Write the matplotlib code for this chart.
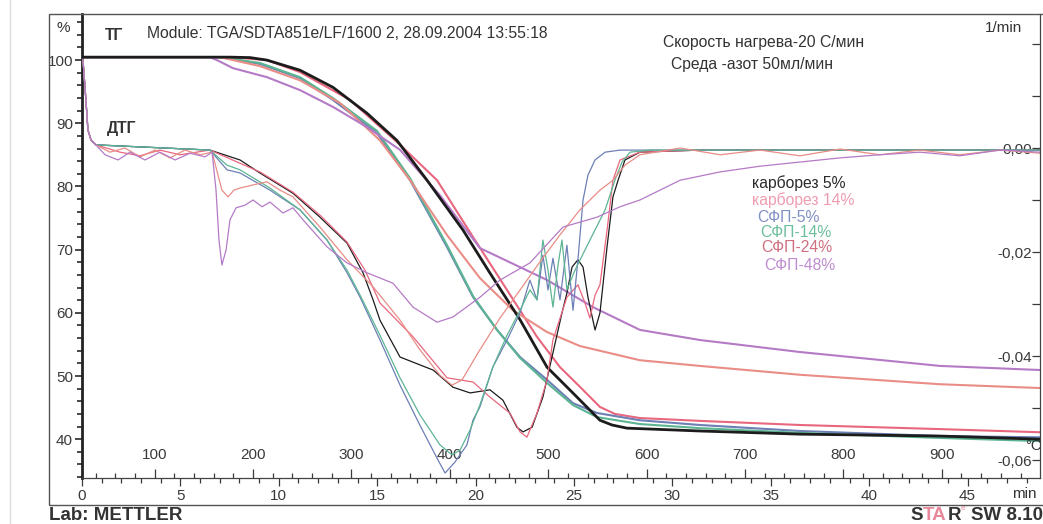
import matplotlib
matplotlib.use('Agg')
import matplotlib.pyplot as plt
from matplotlib.ticker import MultipleLocator, FixedLocator, FuncFormatter
from matplotlib.patches import Rectangle
from matplotlib.lines import Line2D

plt.rcParams['font.family'] = ['Liberation Sans', 'DejaVu Sans']

W, H = 1043, 524

# ---- series ----
names = ['карборез 5%', 'карборез 14%', 'СФП-5%', 'СФП-14%', 'СФП-24%', 'СФП-48%']
line_colors = ['#1c1c1c', '#e8677f', '#6c80b6', '#5cb592', '#e98d86', '#b57ac6']
label_colors = ['#2a2a2a', '#ee9cb0', '#8090c4', '#6cbf9c', '#cf6f80', '#bf8ccf']

# ---- TG curves (time, min / mass, %) ----
tg_t_k5 = [0.05, 7.52, 8.54, 9.40, 11.08, 12.75, 14.48, 16.0, 17.53, 19.36, 20.73, 22.26,
           23.63, 24.95, 26.32, 26.93, 27.69, 31.4, 36.48, 43.6, 48.68]
tg_k5 = [100.47, 100.47, 100.4, 100.0, 98.4, 95.7, 91.6, 87.3, 81.0, 73.1, 66.3, 58.9,
         51.4, 47.3, 43.0, 42.25, 41.75, 41.3, 40.8, 40.5, 40.0]

tg_t_k14 = [0.05, 7.52, 9.4, 11.08, 13.62, 16.16, 18.04, 19.87, 21.6, 23.12, 24.29,
            25.3, 26.32, 27.08, 28.35, 31.4, 36.48, 43.6, 48.68]
tg_k14 = [100.47, 100.47, 100.0, 98.1, 93.7, 86.6, 81.0, 72.0, 63.6, 56.2, 51.4,
          48.3, 45.1, 44.0, 43.35, 42.9, 42.25, 41.6, 41.1]

tg_t_s5 = [0.05, 7.01, 9.04, 11.08, 12.75, 14.99, 16.67, 18.55, 19.87, 21.09, 22.26,
           23.63, 24.95, 26.17, 28.35, 31.4, 36.48, 43.6, 48.68]
tg_s5 = [100.47, 100.47, 99.4, 97.15, 93.7, 88.45, 81.0, 70.4, 62.5, 57.3, 53.0,
         49.4, 45.7, 44.15, 43.0, 42.25, 41.3, 40.5, 40.3]

tg_t_s14 = tg_t_s5
tg_s14 = [100.47, 100.47, 99.55, 97.3, 94.0, 88.8, 81.3, 70.7, 62.65, 57.3, 52.85,
          48.9, 45.4, 43.5, 42.4, 41.75, 41.0, 40.2, 39.7]

tg_t_s24 = [0.05, 7.01, 9.04, 11.08, 13.11, 15.14, 16.67, 18.55, 20.22, 21.9, 23.63,
            25.3, 28.35, 31.4, 36.48, 43.6, 48.68]
tg_s24 = [100.47, 100.47, 99.05, 96.8, 93.2, 87.3, 81.0, 72.3, 65.5, 60.4, 56.96,
          54.75, 52.5, 51.6, 50.2, 48.7, 48.1]

tg_t_s48 = [0.05, 6.5, 6.86, 7.67, 9.4, 11.08, 12.75, 14.48, 16.16, 18.19, 20.22,
            23.63, 25.97, 28.35, 31.4, 36.48, 43.6, 48.68]
tg_s48 = [100.47, 100.47, 100.0, 98.73, 97.3, 95.25, 92.6, 89.4, 85.8, 78.6, 70.25,
          65.2, 60.9, 57.3, 55.7, 53.8, 51.6, 50.95]

# ---- DTG curves (time, min / rate, 1/min) ----
dtg_t0 = [0.05, 0.2, 0.3, 0.46, 0.71]
dtg_v0 = [0.0169, 0.0092, 0.0035, 0.0015, 0.0006]

dtg_t_k5 = [6.5, 8.03, 9.04, 10.72, 12.09, 13.47, 14.28, 14.79, 15.14, 16.16,
            17.84, 18.85, 19.72, 20.73, 21.39, 22.1, 22.41, 22.87, 23.42, 23.93,
            24.39, 24.64, 24.9, 25.2, 25.46, 25.71, 26.07, 26.32, 26.68, 26.98,
            27.24, 27.59, 28.35, 31.4, 48.68]
dtg_k5 = [-0.0004, -0.0023, -0.0048, -0.0087, -0.0133, -0.0183, -0.024, -0.0292, -0.0331, -0.0402,
          -0.0427, -0.046, -0.0471, -0.0465, -0.0485, -0.0537, -0.0546, -0.0537, -0.0479, -0.0394,
          -0.0317, -0.0279, -0.0229, -0.0215, -0.0229, -0.0287, -0.035, -0.0317, -0.019, -0.0094,
          -0.0062, -0.0023, -0.0008, -0.0004, -0.0004]

dtg_t_k14 = [1.93, 2.95, 3.96, 4.98, 6.5, 9.04, 10.72, 12.09, 13.47, 14.38,
             15.14, 16.82, 18.55, 19.87, 20.73, 21.75, 22.26, 22.61, 23.12, 23.63,
             23.93, 24.64, 25.2, 25.56, 25.81, 26.07, 26.32, 26.68, 26.98, 27.34,
             28.35, 31.4, 48.68]
dtg_k14 = [-0.0008, -0.0015, -0.0004, -0.0013, -0.0004, -0.0046, -0.0085, -0.0129, -0.0181, -0.0235,
           -0.0298, -0.0363, -0.0442, -0.045, -0.0479, -0.051, -0.0546, -0.0556, -0.051, -0.0446,
           -0.0369, -0.0287, -0.0263, -0.0298, -0.0327, -0.0283, -0.0263, -0.0158, -0.0062, -0.0023,
           -0.0008, -0.0004, -0.0004]

dtg_t_s5 = [6.5, 7.37, 8.03, 9.55, 11.08, 12.45, 13.47, 14.13, 15.14, 16.16,
            17.17, 18.09, 18.45, 18.95, 19.56, 19.87, 20.22, 20.88, 21.6, 22.26,
            22.76, 23.12, 23.42, 23.68, 23.93, 24.29, 24.64, 24.95, 25.2, 25.46,
            25.71, 26.07, 26.58, 27.34, 48.68]
dtg_s5 = [-0.0004, -0.0042, -0.0048, -0.0081, -0.0119, -0.0177, -0.024, -0.0287, -0.0369, -0.0456,
          -0.0533, -0.06, -0.0625, -0.0604, -0.0571, -0.0523, -0.0498, -0.0421, -0.0369, -0.0317,
          -0.0254, -0.0292, -0.0206, -0.0273, -0.0212, -0.0292, -0.0187, -0.0312, -0.0215, -0.01,
          -0.0052, -0.0023, -0.0008, -0.0004, -0.0004]

dtg_t_s14 = [6.5, 7.37, 8.03, 9.55, 11.08, 12.45, 13.47, 14.13, 15.14, 16.16,
             17.17, 18.19, 18.8, 19.21, 19.72, 20.22, 20.88, 21.6, 22.26, 22.76,
             23.12, 23.42, 23.68, 23.93, 24.19, 24.39, 24.64, 25.05, 25.81, 26.58,
             27.08, 27.44, 27.85, 28.86, 48.68]
dtg_s14 = [-0.0004, -0.0033, -0.0042, -0.0077, -0.0119, -0.0177, -0.0235, -0.0283, -0.036, -0.0442,
           -0.0513, -0.0571, -0.059, -0.0581, -0.0542, -0.0494, -0.0421, -0.036, -0.0312, -0.0273,
           -0.0292, -0.0177, -0.0235, -0.0306, -0.0225, -0.0177, -0.0273, -0.0235, -0.0177, -0.0119,
           -0.0062, -0.0027, -0.0008, -0.0004, -0.0004]

dtg_t_s24 = [1.42, 2.18, 2.95, 3.71, 4.47, 5.23, 6.0, 6.61, 7.11, 7.42,
             7.72, 8.03, 8.69, 9.4, 10.06, 10.72, 12.09, 13.47, 14.79, 16.16,
             17.17, 18.19, 18.8, 19.31, 20.22, 21.24, 22.26, 23.27, 24.29, 25.3,
             26.32, 26.98, 27.59, 28.35, 30.39, 32.42, 34.45, 36.48, 38.52, 40.55,
             42.58, 44.61, 46.65, 48.68]
dtg_s24 = [-0.0008, 0.0, -0.0017, -0.0004, -0.0019, -0.0004, -0.0013, -0.0008, -0.0081, -0.0094,
           -0.0081, -0.0077, -0.0071, -0.0065, -0.0081, -0.0094, -0.0152, -0.0215, -0.0267, -0.0331,
           -0.0388, -0.0437, -0.0456, -0.0446, -0.0388, -0.0327, -0.0273, -0.0219, -0.0167, -0.0119,
           -0.0081, -0.0062, -0.0033, -0.0013, 0.0, -0.0013, -0.0004, -0.0015, -0.0002, -0.0013,
           -0.0004, -0.0013, -0.0004, -0.001]

dtg_t_s48 = [1.17, 1.83, 2.44, 3.2, 3.96, 4.73, 5.49, 6.25, 6.61, 6.81,
             6.96, 7.11, 7.32, 7.52, 7.83, 8.28, 8.69, 9.15, 9.55, 10.21,
             10.72, 11.23, 12.45, 13.47, 14.48, 15.8, 16.82, 18.04, 18.85, 20.22,
             21.24, 22.76, 24.44, 26.17, 27.34, 28.35, 30.39, 32.42, 34.45, 36.48,
             38.52, 40.55, 42.58, 44.61, 46.65, 48.68]
dtg_s48 = [-0.0013, -0.0023, -0.0008, -0.0023, -0.0008, -0.0023, -0.001, -0.0017, -0.0008, -0.0081,
           -0.0177, -0.0225, -0.0196, -0.0138, -0.0115, -0.011, -0.01, -0.0113, -0.0104, -0.0125,
           -0.0115, -0.0138, -0.019, -0.0221, -0.024, -0.026, -0.0306, -0.0335, -0.0325, -0.0287,
           -0.0254, -0.0221, -0.0152, -0.0133, -0.0113, -0.01, -0.0062, -0.0046, -0.0035, -0.0027,
           -0.0019, -0.0013, -0.0008, -0.0015, -0.0004, -0.0008]

tg_t = [tg_t_k5, tg_t_k14, tg_t_s5, tg_t_s14, tg_t_s24, tg_t_s48]
tg_v = [tg_k5, tg_k14, tg_s5, tg_s14, tg_s24, tg_s48]
dtg_t = [dtg_t_k5, dtg_t_k14, dtg_t_s5, dtg_t_s14, dtg_t_s24, dtg_t_s48]
dtg_v = [dtg_k5, dtg_k14, dtg_s5, dtg_s14, dtg_s24, dtg_s48]

# heating programme: 20 K/min
T_start = 26.2
rate = 20.0


def t_to_T(t):
    return T_start + rate * t


def T_to_t(T):
    return (T - T_start) / rate


def px(x, y):
    return x / W, 1 - y / H


fig = plt.figure(figsize=(W / 100, H / 100), dpi=100)
fig.patch.set_facecolor('white')

x0, y0 = px(82, 478)
x1, y1 = px(1040, 14)
ax = fig.add_axes([x0, y0, x1 - x0, y1 - y0])
ax.set_facecolor('none')
ax2 = ax.twinx()

for i in range(6):
    lw = 2.0 if i == 0 else 1.5
    ax.plot(tg_t[i], tg_v[i], color=line_colors[i], lw=lw, zorder=3 + (i == 0),
            solid_joinstyle='round')
    ax2.plot(dtg_t0 + dtg_t[i], dtg_v0 + dtg_v[i], color=line_colors[i], lw=0.9,
             solid_joinstyle='round')

ax.set_xlim(0, 48.68)
ax.set_ylim(33.86, 107.3)
ax2.set_ylim(-0.06346, 0.02577)

# left axis (%)
tick_col = '#3a3a3a'
ax.yaxis.set_major_locator(FixedLocator([40, 50, 60, 70, 80, 90, 100]))
ax.yaxis.set_minor_locator(MultipleLocator(2))
ax.tick_params(axis='y', which='major', direction='out', length=5, width=1.3,
               pad=1.5, labelsize=11, colors=tick_col)
ax.tick_params(axis='y', which='minor', direction='out', length=3.8, width=1.3, colors=tick_col)

# time axis (min)
ax.xaxis.set_major_locator(MultipleLocator(5))
ax.xaxis.set_minor_locator(MultipleLocator(1))
ax.tick_params(axis='x', which='major', direction='out', length=6, width=0.9,
               pad=2, labelsize=11, colors=tick_col)
ax.tick_params(axis='x', which='minor', direction='out', length=3.5, width=0.9, colors=tick_col)

ax.spines['top'].set_visible(False)
ax.spines['right'].set_visible(False)
ax.spines['left'].set_linewidth(2.0)
ax.spines['left'].set_color('#222222')
ax.spines['bottom'].set_linewidth(0.9)
ax.spines['bottom'].set_color('#444444')

# right axis (1/min)
for s in ['top', 'left', 'bottom']:
    ax2.spines[s].set_visible(False)
ax2.spines['right'].set_color('#444444')
ax2.spines['right'].set_linewidth(0.9)
ax2.yaxis.set_major_locator(FixedLocator([-0.06, -0.04, -0.02, 0.0]))
ax2.yaxis.set_minor_locator(FixedLocator([-0.05, -0.03, -0.01, 0.01, 0.02]))
ax2.yaxis.set_major_formatter(FuncFormatter(
    lambda v, p: ('%.2f' % (0.0 if abs(v) < 1e-9 else v)).replace('.', ',')))
ax2.tick_params(axis='y', which='both', direction='in', length=5.5, width=0.9,
                pad=-6, labelsize=11, colors=tick_col)
for lbl in ax2.get_yticklabels():
    lbl.set_horizontalalignment('right')

# temperature scale on the time axis
sec = ax.secondary_xaxis(0.0, functions=(t_to_T, T_to_t))
sec.set_alignment('top')
for s in sec.spines.values():
    s.set_visible(False)
sec.xaxis.set_major_locator(FixedLocator([100, 200, 300, 400, 500, 600, 700, 800, 900]))
sec.xaxis.set_minor_locator(MultipleLocator(20))
sec.tick_params(axis='x', which='major', direction='out', length=6.5, width=0.9,
                pad=5, labelsize=11, colors=tick_col)
sec.tick_params(axis='x', which='minor', direction='out', length=3.5, width=0.9, colors=tick_col)

# frame
fig.add_artist(Rectangle(px(49, 505), (1100 - 49) / W, (505 - 14) / H,
                         transform=fig.transFigure, fill=False, ec='#555555', lw=1.0))
fig.add_artist(Line2D([10 / W, 10 / W], [0, 1], color='#dddddd', lw=1.0))

txt = '#333333'
fs = 11.3
fig.text(*px(63, 28), '%', ha='center', va='center', fontsize=11, color=txt)
fig.text(*px(105, 36), 'ТГ', ha='left', va='center', fontsize=fs, fontweight='bold', color=txt)
fig.text(*px(107, 128), 'ДТГ', ha='left', va='center', fontsize=fs, fontweight='bold', color=txt)
fig.text(*px(147, 33), 'Module: TGA/SDTA851e/LF/1600 2, 28.09.2004 13:55:18',
         ha='left', va='center', fontsize=fs, color=txt)
fig.text(*px(663, 42), 'Скорость нагрева-20 С/мин', ha='left', va='center', fontsize=fs, color=txt)
fig.text(*px(671, 65), 'Среда -азот 50мл/мин', ha='left', va='center', fontsize=fs, color=txt)
fig.text(*px(985, 28), '1/min', ha='left', va='center', fontsize=11, color=txt)
fig.text(*px(1012, 494), 'min', ha='left', va='center', fontsize=11, color=txt)
fig.text(*px(1025, 446), '°C', ha='left', va='center', fontsize=10.5, color=txt)

legend_pos = [(752, 183), (752, 200), (757, 218), (760, 233), (761, 248), (764, 265)]
for i in range(6):
    fig.text(*px(*legend_pos[i]), names[i], ha='left', va='center', fontsize=fs,
             color=label_colors[i])

fb = 13.5
fig.text(*px(49, 515), 'Lab: METTLER', ha='left', va='center', fontsize=fb,
         fontweight='bold', color='#333333')
star = [('S', 910, '#333333'), ('TA', 922.5, '#e8869a'), ('R', 947.5, '#333333')]
for s, xx, c in star:
    fig.text(*px(xx, 515), s, ha='left', va='center', fontsize=fb, fontweight='bold', color=c)
fig.text(*px(961, 509), 'e', ha='left', va='center', fontsize=6, color='#e8869a')
fig.text(*px(971, 515), 'SW 8.10', ha='left', va='center', fontsize=fb,
         fontweight='bold', color='#333333')

fig.savefig('out.png', dpi=100)
